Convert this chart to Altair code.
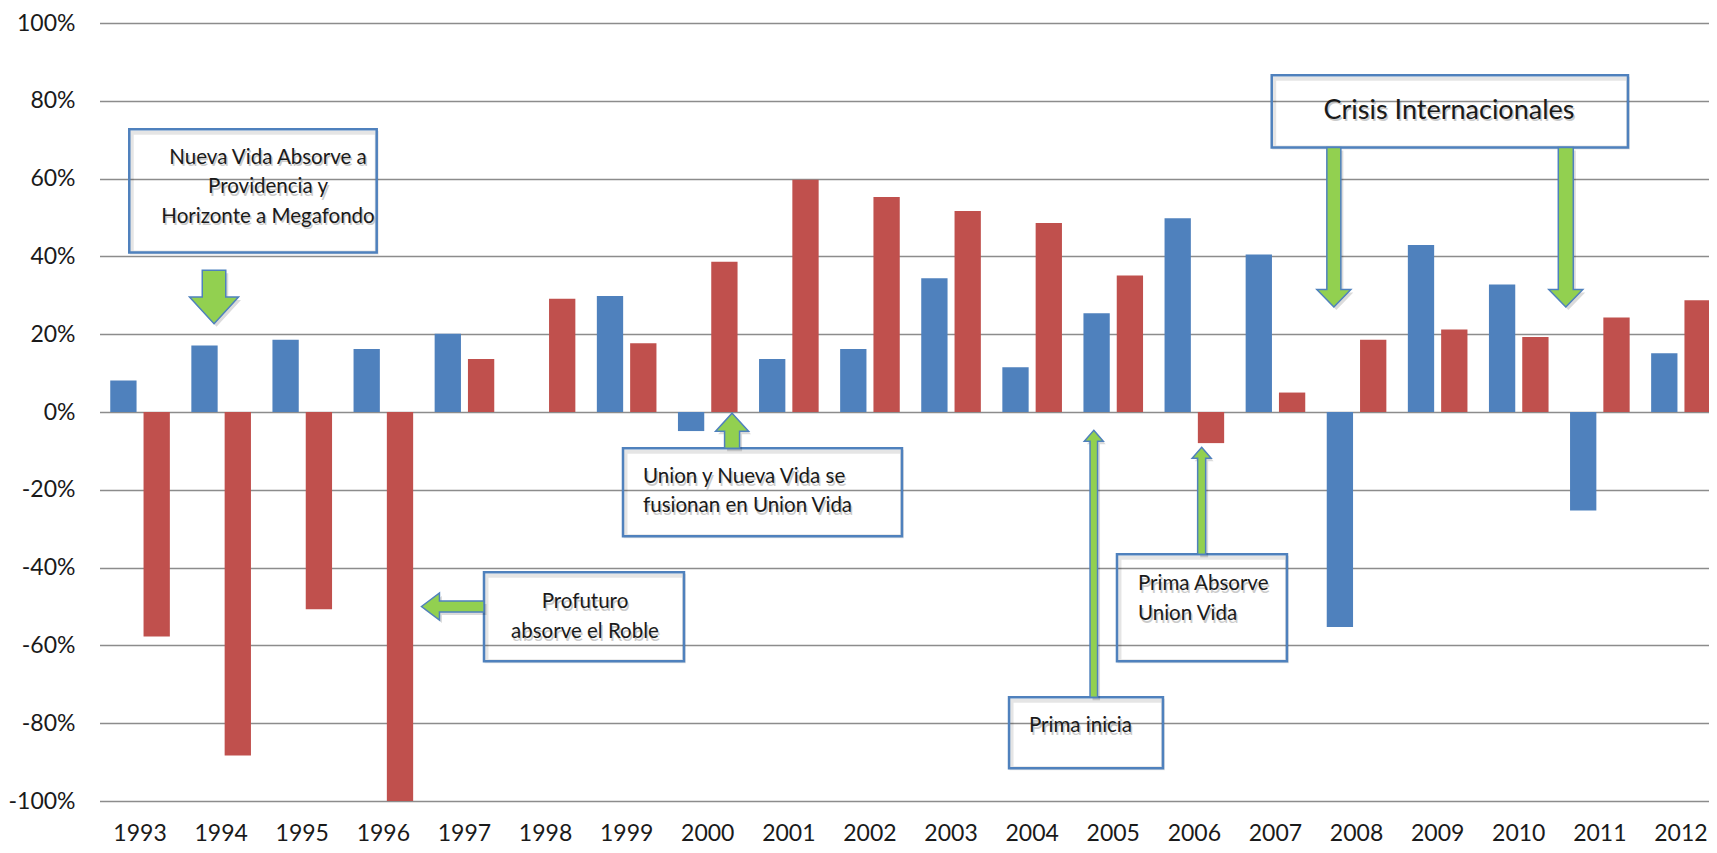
import altair as alt
import pandas as pd

FONT = "Lato"
PAD_LEFT = 91.5
W_VIEW, H = 1609.5, 778       # drawn view (svg stays inside the window)
W_RANGE = 1622                # full band range (last band runs to the edge)

# ---- data -------------------------------------------------------------
years = [str(y) for y in range(1993, 2013)]
serie_azul = [0.081, 0.171, 0.186, 0.162, 0.201, None, 0.298, -0.049, 0.136, 0.162,
              0.344, 0.115, 0.254, 0.498, 0.405, -0.553, 0.429, 0.328, -0.253, 0.151]
serie_roja = [-0.577, -0.883, -0.507, -1.000, 0.136, 0.291, 0.177, 0.386, 0.597, 0.553,
              0.517, 0.486, 0.351, -0.080, 0.050, 0.186, 0.212, 0.193, 0.243, 0.287]
series = ["Serie 1", "Serie 2"]
y_ticks = [-1.0, -0.8, -0.6, -0.4, -0.2, 0.0, 0.2, 0.4, 0.6, 0.8, 1.0]

# annotation boxes (x in year units, y in fraction units)
box_x1 = [1992.867, 1998.955, 1997.241, 2006.954, 2005.046, 2003.715]
box_x2 = [1995.918, 2002.395, 1999.707, 2011.347, 2007.142, 2005.613]
box_y1 = [0.7267, -0.0933, -0.412, 0.8656, -0.3658, -0.7334]
box_y2 = [0.4098, -0.3195, -0.641, 0.6797, -0.6409, -0.916]

# annotation texts
txt_lines = ["Nueva Vida Absorve a", "Providencia y", "Horizonte a Megafondo",
             "Union y Nueva Vida  se", "fusionan en Union Vida",
             "Profuturo", "absorve el Roble",
             "Crisis Internacionales",
             "Prima Absorve", "Union Vida",
             "Prima inicia"]
txt_x = [1994.578, 1994.578, 1994.578, 1999.202, 1999.202, 1998.486, 1998.486,
         2009.14, 2005.305, 2005.305, 2003.961]
txt_y = [0.6386, 0.5622, 0.4859, -0.1833, -0.2578, -0.5046, -0.5818,
         0.7542, -0.4584, -0.5355, -0.8234]
txt_align = ["center", "center", "center", "left", "left", "center", "center",
             "center", "left", "left", "left"]
txt_size = [20.5, 20.5, 20.5, 20.5, 20.5, 20.5, 20.5, 27, 20.5, 20.5, 20.5]

# arrows: tip position, tail position (data units), direction
arr_tip_x = [1993.912, 2000.30, 1996.47, 2007.72, 2010.58, 2006.09, 2004.76]
arr_tip_y = [0.227, -0.003, -0.50, 0.27, 0.27, -0.0907, -0.047]
arr_tail = [0.3643, -0.0933, 1997.241, 0.6797, 0.6797, -0.3658, -0.7334]
arr_dir = ["down", "up", "left", "down", "down", "up", "up"]
arr_shaft = [23.5, 15, 11, 14, 15, 8, 7.5]
arr_head = [49, 33, 27, 34, 34, 19, 19]
arr_head_len = [26.6, 18, 18, 17.4, 17.4, 11, 11]

# ---- tables -----------------------------------------------------------
rows = []
for i, yv in enumerate(years):
    for s, vals in zip(series, [serie_azul, serie_roja]):
        if vals[i] is not None:
            rows.append({"year": yv, "serie": s, "value": vals[i]})
bars_df = pd.DataFrame(rows)

boxes_df = pd.DataFrame({"x1": box_x1, "x2": box_x2, "y1": box_y1, "y2": box_y2})
txt_df = pd.DataFrame({"t": txt_lines, "x": txt_x, "y": txt_y,
                       "align": txt_align, "fs": txt_size})

px_per_year = W_RANGE / 20.0
px_per_unit = H / 2.0


def arrow_path(direction, length, sw, hw, hl):
    s, h = sw / 2.0, hw / 2.0
    if direction in ("down", "up"):
        pts = [(0, 0), (h, -hl), (s, -hl), (s, -length), (-s, -length), (-s, -hl), (-h, -hl)]
        if direction == "up":
            pts = [(x, -y) for x, y in pts]
    else:  # left
        pts = [(0, 0), (hl, -h), (hl, -s), (length, -s), (length, s), (hl, s), (hl, h)]
    return "M" + " L".join(f"{x:.2f},{y:.2f}" for x, y in pts) + " Z"


arr_rows = []
for tx, ty, tail, d, sw, hw, hl in zip(arr_tip_x, arr_tip_y, arr_tail, arr_dir,
                                       arr_shaft, arr_head, arr_head_len):
    if d == "left":
        length = abs(tail - tx) * px_per_year
    else:
        length = abs(tail - ty) * px_per_unit
    arr_rows.append({"x": tx, "y": ty, "path": arrow_path(d, length, sw, hw, hl)})
arrows_df = pd.DataFrame(arr_rows)

# ---- scales / axes ----------------------------------------------------
yscale = alt.Scale(domain=[-1, 1], nice=False, zero=False)
xq = alt.Scale(domain=[1992.5, 2012.5], range=[0, W_RANGE], nice=False, zero=False)
y_axis = alt.Axis(title=None, values=y_ticks, format=".0%",
                  labelExpr="replace(datum.label, '\u2212', '-')")

bars = alt.Chart(bars_df).mark_bar().encode(
    x=alt.X("year:O", sort=years,
            scale=alt.Scale(paddingInner=0.265, paddingOuter=0.1325, range=[0, W_RANGE]),
            axis=alt.Axis(title=None, labelAngle=0, labelPadding=21, grid=False)),
    xOffset=alt.XOffset("serie:N", sort=series, scale=alt.Scale(paddingInner=0.21)),
    y=alt.Y("value:Q", scale=yscale, axis=y_axis),
    color=alt.Color("serie:N", scale=alt.Scale(domain=series,
                                                range=["#4F81BD", "#C0504D"]),
                    legend=None),
)

box_enc = dict(
    x=alt.X("x1:Q", scale=xq, axis=None),
    x2="x2:Q",
    y=alt.Y("y1:Q", scale=yscale, axis=y_axis),
    y2="y2:Q",
)
box_shadow = alt.Chart(boxes_df).mark_rect(
    fillOpacity=0, stroke="#000000", strokeOpacity=0.10, strokeWidth=4,
    xOffset=2.5, yOffset=3.5
).encode(**box_enc)
boxes = alt.Chart(boxes_df).mark_rect(
    fillOpacity=0, stroke="#4F81BD", strokeWidth=2.5
).encode(**box_enc)

arr_enc = dict(
    x=alt.X("x:Q", scale=xq, axis=None),
    y=alt.Y("y:Q", scale=yscale, axis=y_axis),
    shape=alt.Shape("path:N", scale=None, legend=None),
)
arrow_shadow = alt.Chart(arrows_df).mark_point(
    filled=True, fill="#000000", opacity=0.14, size=4, xOffset=2.5, yOffset=3
).encode(**arr_enc)
arrows = alt.Chart(arrows_df).mark_point(
    filled=True, fill="#92D050", stroke="#4F81BD", strokeWidth=1.5, size=4, opacity=1
).encode(**arr_enc)


def text_layer(align, shadow=False):
    props = dict(font=FONT, align=align, baseline="alphabetic")
    if shadow:
        props.update(color="#7f7f7f", opacity=0.4, dx=1.5, dy=2.5)
    else:
        props.update(color="#1a1a1a")
    return alt.Chart(txt_df).transform_filter(
        alt.datum.align == align
    ).mark_text(**props).encode(
        x=alt.X("x:Q", scale=xq, axis=None),
        y=alt.Y("y:Q", scale=yscale, axis=y_axis),
        text="t:N",
        size=alt.Size("fs:Q", scale=None, legend=None),
    )


chart = alt.layer(
    bars, box_shadow, boxes, arrow_shadow, arrows,
    text_layer("center", True), text_layer("left", True),
    text_layer("center"), text_layer("left")
).resolve_scale(x="independent").properties(
    width=W_VIEW, height=H,
    autosize=alt.AutoSizeParams(type="none"),
    padding={"left": PAD_LEFT, "top": 15, "right": 0, "bottom": 44},
    background="white",
).configure_view(
    stroke=None
).configure_axis(
    labelFont=FONT, labelFontSize=23, labelColor="#1a1a1a",
    ticks=False, tickSize=0, domain=False
).configure_axisY(
    labelPadding=24.5, grid=True, gridColor="#8c8c8c", gridWidth=1.5
).configure_axisX(
    grid=False
)

chart.save("out.html", embed_options={"renderer": "svg", "actions": False})
